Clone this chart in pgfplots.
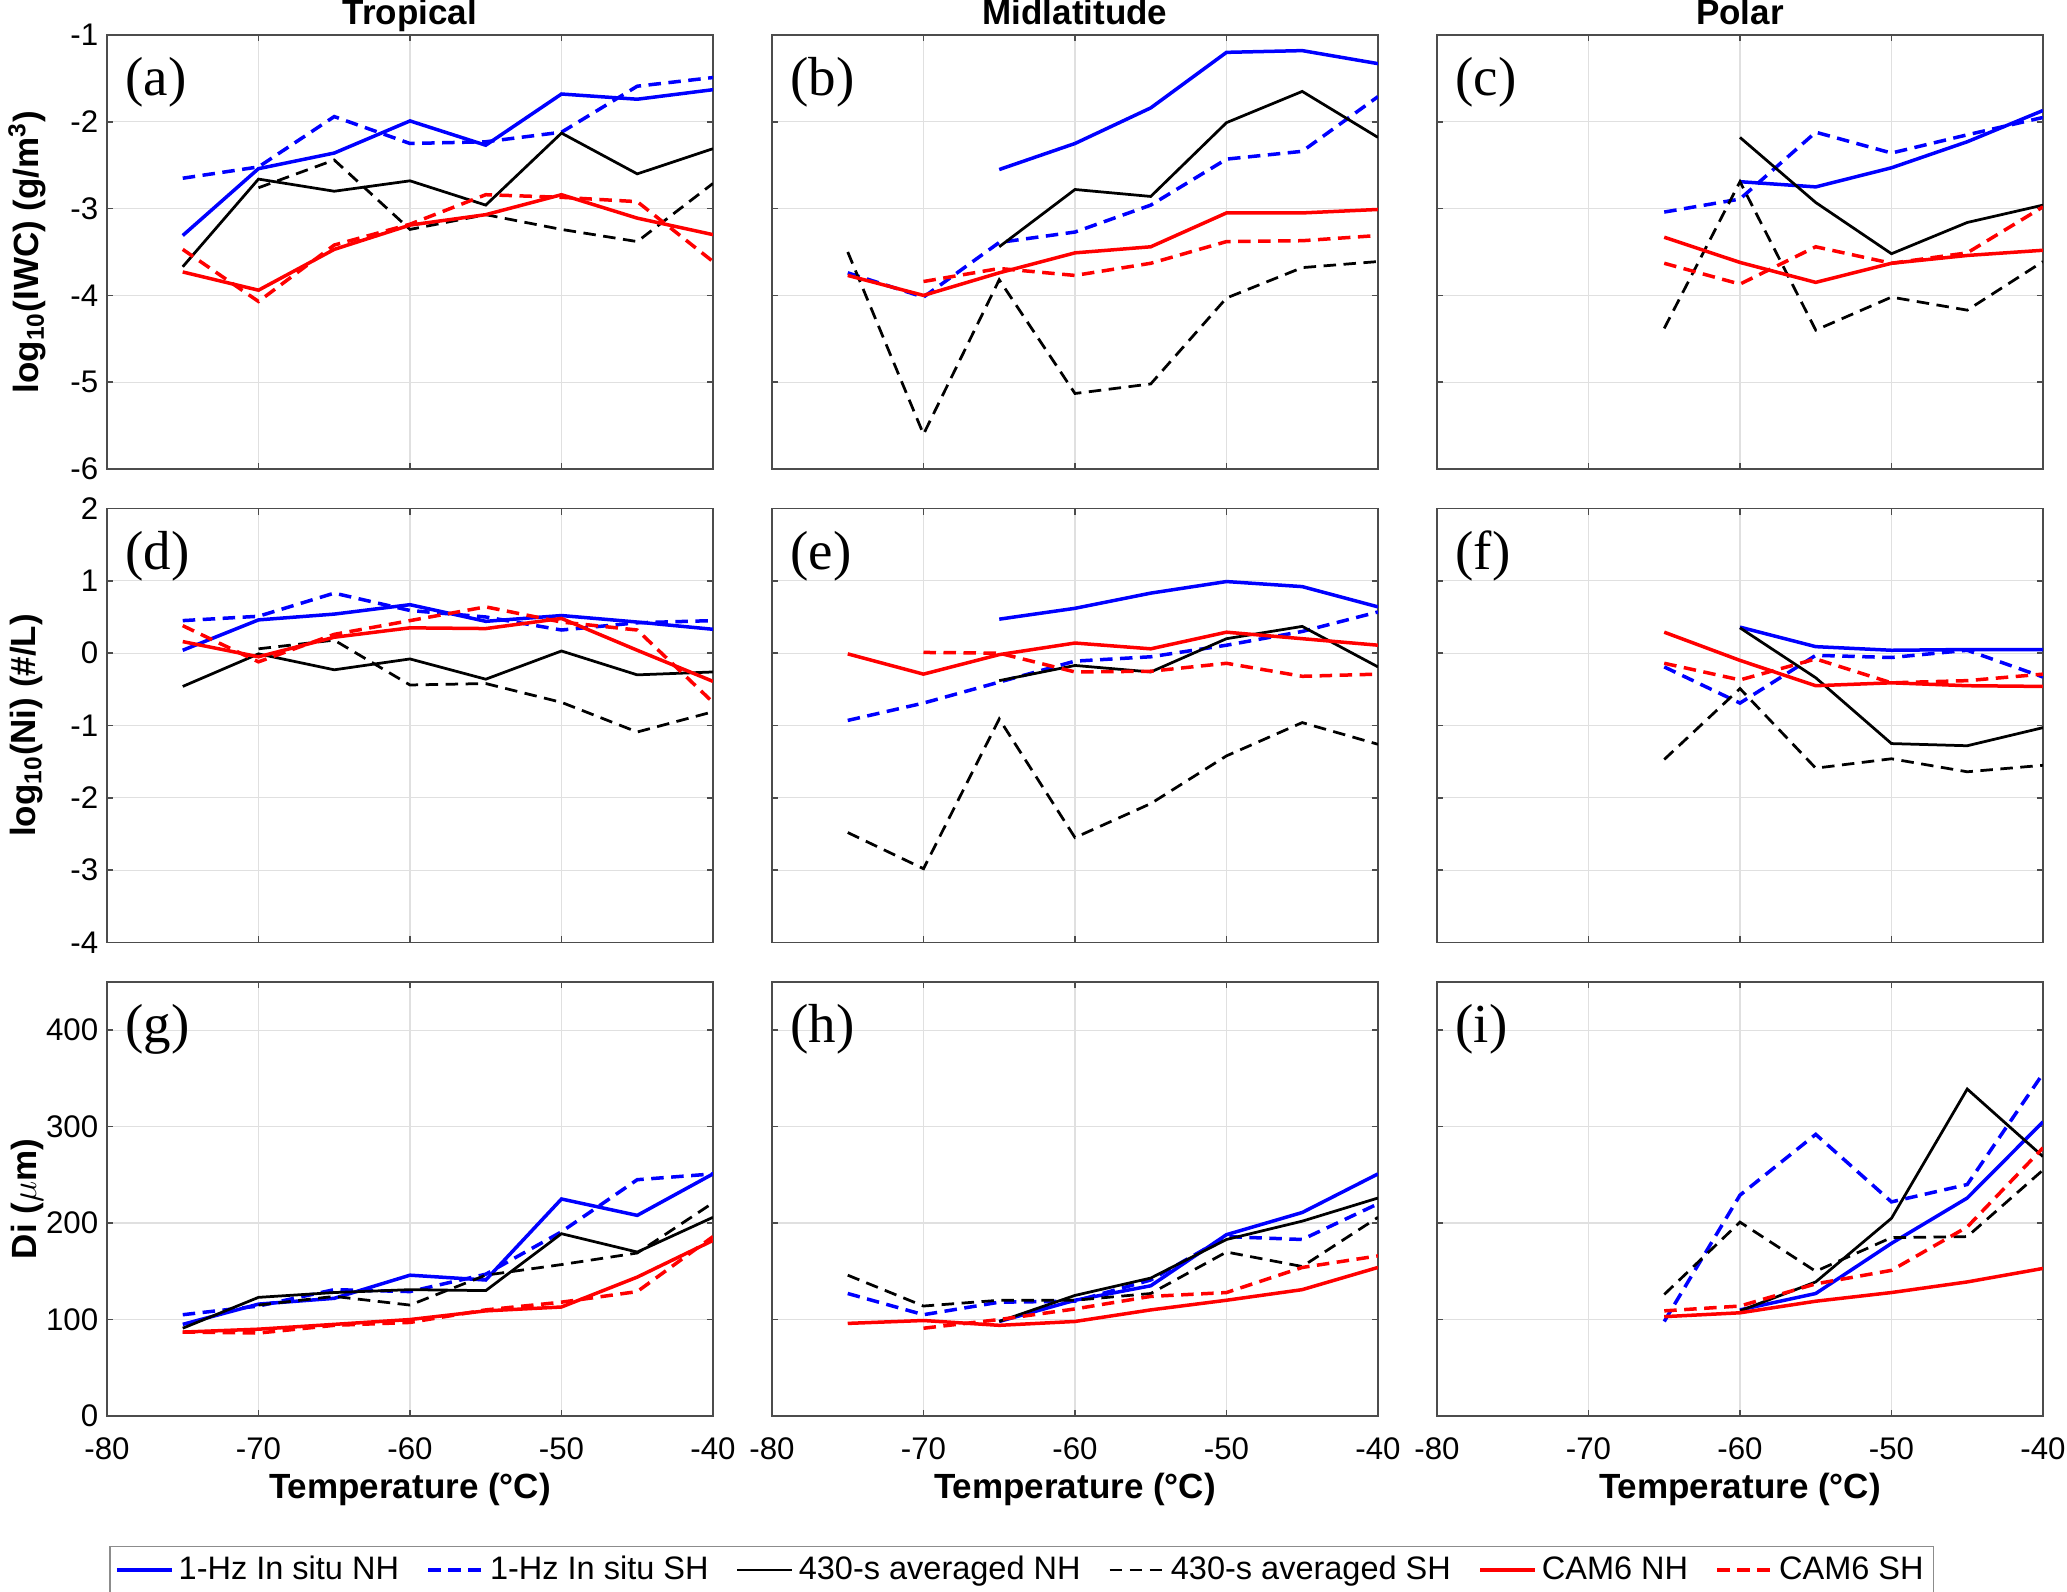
\documentclass[border=0pt]{standalone}
\usepackage{fontspec}
\setmainfont{Liberation Sans}
\newfontfamily\serif{Liberation Serif}
\usepackage{pgfplots}
\pgfplotsset{compat=1.18}
\usepgfplotslibrary{groupplots}

\pgfplotsset{
  s1/.style={blue, line width=1.4pt},
  s2/.style={blue, line width=1.4pt, dash pattern=on 5pt off 3pt},
  s3/.style={black, line width=1.1pt},
  s4/.style={black, line width=1.1pt, dash pattern=on 5pt off 3pt},
  s5/.style={red, line width=1.4pt},
  s6/.style={red, line width=1.4pt, dash pattern=on 5pt off 3pt},
}
\newcommand{\plab}[1]{\node[anchor=west, inner sep=0pt, font=\serif\fontsize{22}{22}\selectfont] at (rel axis cs:0.03,0.89) {(#1)};}

\begin{document}
\begin{tikzpicture}
\begin{groupplot}[
  group style={group size=3 by 3, horizontal sep=23.6pt, vertical sep=15.8pt,
    xticklabels at=edge bottom, yticklabels at=edge left},
  scale only axis, width=242.4pt, height=173.6pt,
  xmin=-80, xmax=-40, xtick={-80,-70,-60,-50,-40},
  no markers,
  grid=major, major grid style={black!12, line width=0.5pt},
  axis line style={black!70, line width=0.6pt},
  tick align=inside, major tick length=2.5pt, tick style={black!70, line width=0.6pt},
  ticklabel style={font=\fontsize{12.5}{12.5}\selectfont},
  xticklabel style={yshift=-5pt},
  /pgf/number format/assume math mode=true,
  title style={font=\bfseries\fontsize{14}{14}\selectfont, anchor=base, yshift=-2pt},
  label style={font=\bfseries\fontsize{14}{14}\selectfont},
  ylabel style={at={(axis description cs:-0.132,0.5)}, anchor=center},
  xlabel style={at={(axis description cs:0.5,-0.169)}, anchor=center},
  legend image code/.code={\draw[#1] (0pt,0pt) -- (22pt,0pt);},
]
% ---- row 1: IWC
\nextgroupplot[title=Tropical, ymin=-6, ymax=-1, ytick={-6,-5,-4,-3,-2,-1},
  ylabel={log\textsubscript{10}(IWC) (g/m\textsuperscript{3})}]
\coordinate (A) at (rel axis cs:0,1);
\addplot[s1] coordinates {(-75,-3.31)(-70,-2.54)(-65,-2.36)(-60,-1.99)(-55,-2.27)(-50,-1.68)(-45,-1.74)(-40,-1.63)};
\addplot[s2] coordinates {(-75,-2.65)(-70,-2.52)(-65,-1.94)(-60,-2.25)(-55,-2.23)(-50,-2.12)(-45,-1.59)(-40,-1.49)};
\addplot[s3] coordinates {(-75,-3.67)(-70,-2.66)(-65,-2.80)(-60,-2.68)(-55,-2.96)(-50,-2.13)(-45,-2.60)(-40,-2.31)};
\addplot[s4] coordinates {(-70,-2.76)(-65,-2.44)(-60,-3.24)(-55,-3.07)(-50,-3.24)(-45,-3.38)(-40,-2.71)};
\addplot[s5] coordinates {(-75,-3.73)(-70,-3.94)(-65,-3.47)(-60,-3.19)(-55,-3.07)(-50,-2.84)(-45,-3.11)(-40,-3.30)};
\addplot[s6] coordinates {(-75,-3.47)(-70,-4.07)(-65,-3.42)(-60,-3.18)(-55,-2.84)(-50,-2.87)(-45,-2.92)(-40,-3.61)};
\plab{a}

\nextgroupplot[title=Midlatitude, ymin=-6, ymax=-1, ytick={-6,-5,-4,-3,-2,-1}]
\addplot[s1] coordinates {(-65,-2.55)(-60,-2.25)(-55,-1.84)(-50,-1.20)(-45,-1.18)(-40,-1.33)};
\addplot[s2] coordinates {(-75,-3.74)(-70,-4.02)(-65,-3.39)(-60,-3.27)(-55,-2.96)(-50,-2.43)(-45,-2.34)(-40,-1.71)};
\addplot[s3] coordinates {(-65,-3.44)(-60,-2.78)(-55,-2.86)(-50,-2.01)(-45,-1.65)(-40,-2.18)};
\addplot[s4] coordinates {(-75,-3.50)(-70,-5.60)(-65,-3.82)(-60,-5.13)(-55,-5.02)(-50,-4.03)(-45,-3.68)(-40,-3.61)};
\addplot[s5] coordinates {(-75,-3.77)(-70,-4.00)(-65,-3.74)(-60,-3.51)(-55,-3.44)(-50,-3.05)(-45,-3.05)(-40,-3.01)};
\addplot[s6] coordinates {(-70,-3.84)(-65,-3.69)(-60,-3.77)(-55,-3.63)(-50,-3.38)(-45,-3.37)(-40,-3.31)};
\plab{b}

\nextgroupplot[title=Polar, ymin=-6, ymax=-1, ytick={-6,-5,-4,-3,-2,-1}]
\addplot[s1] coordinates {(-60,-2.69)(-55,-2.75)(-50,-2.53)(-45,-2.23)(-40,-1.87)};
\addplot[s2] coordinates {(-65,-3.04)(-60,-2.89)(-55,-2.12)(-50,-2.36)(-45,-2.15)(-40,-1.95)};
\addplot[s3] coordinates {(-60,-2.18)(-55,-2.93)(-50,-3.52)(-45,-3.16)(-40,-2.96)};
\addplot[s4] coordinates {(-65,-4.38)(-60,-2.69)(-55,-4.40)(-50,-4.02)(-45,-4.17)(-40,-3.61)};
\addplot[s5] coordinates {(-65,-3.33)(-60,-3.62)(-55,-3.85)(-50,-3.63)(-45,-3.54)(-40,-3.48)};
\addplot[s6] coordinates {(-65,-3.63)(-60,-3.87)(-55,-3.44)(-50,-3.63)(-45,-3.51)(-40,-2.98)};
\plab{c}

% ---- row 2: Ni
\nextgroupplot[ymin=-4, ymax=2, ytick={-4,-3,-2,-1,0,1,2},
  ylabel={log\textsubscript{10}(Ni) (\#/L)}]
\addplot[s1] coordinates {(-75,0.04)(-70,0.46)(-65,0.54)(-60,0.67)(-55,0.44)(-50,0.52)(-45,0.43)(-40,0.33)};
\addplot[s2] coordinates {(-75,0.45)(-70,0.51)(-65,0.83)(-60,0.59)(-55,0.50)(-50,0.32)(-45,0.42)(-40,0.45)};
\addplot[s3] coordinates {(-75,-0.46)(-70,-0.01)(-65,-0.23)(-60,-0.08)(-55,-0.36)(-50,0.03)(-45,-0.30)(-40,-0.26)};
\addplot[s4] coordinates {(-70,0.06)(-65,0.18)(-60,-0.44)(-55,-0.42)(-50,-0.68)(-45,-1.09)(-40,-0.81)};
\addplot[s5] coordinates {(-75,0.16)(-70,-0.05)(-65,0.22)(-60,0.35)(-55,0.34)(-50,0.48)(-45,0.04)(-40,-0.39)};
\addplot[s6] coordinates {(-75,0.38)(-70,-0.12)(-65,0.26)(-60,0.45)(-55,0.64)(-50,0.43)(-45,0.32)(-40,-0.68)};
\plab{d}

\nextgroupplot[ymin=-4, ymax=2, ytick={-4,-3,-2,-1,0,1,2}]
\addplot[s1] coordinates {(-65,0.47)(-60,0.62)(-55,0.83)(-50,0.99)(-45,0.92)(-40,0.64)};
\addplot[s2] coordinates {(-75,-0.93)(-70,-0.69)(-65,-0.40)(-60,-0.11)(-55,-0.05)(-50,0.11)(-45,0.30)(-40,0.57)};
\addplot[s3] coordinates {(-65,-0.38)(-60,-0.17)(-55,-0.26)(-50,0.20)(-45,0.37)(-40,-0.19)};
\addplot[s4] coordinates {(-75,-2.48)(-70,-2.98)(-65,-0.91)(-60,-2.55)(-55,-2.08)(-50,-1.42)(-45,-0.96)(-40,-1.26)};
\addplot[s5] coordinates {(-75,-0.01)(-70,-0.29)(-65,-0.02)(-60,0.14)(-55,0.06)(-50,0.29)(-45,0.20)(-40,0.11)};
\addplot[s6] coordinates {(-70,0.01)(-65,0.00)(-60,-0.26)(-55,-0.25)(-50,-0.14)(-45,-0.32)(-40,-0.29)};
\plab{e}

\nextgroupplot[ymin=-4, ymax=2, ytick={-4,-3,-2,-1,0,1,2}]
\addplot[s1] coordinates {(-60,0.36)(-55,0.09)(-50,0.04)(-45,0.05)(-40,0.05)};
\addplot[s2] coordinates {(-65,-0.19)(-60,-0.69)(-55,-0.03)(-50,-0.06)(-45,0.04)(-40,-0.33)};
\addplot[s3] coordinates {(-60,0.35)(-55,-0.34)(-50,-1.25)(-45,-1.28)(-40,-1.03)};
\addplot[s4] coordinates {(-65,-1.47)(-60,-0.49)(-55,-1.59)(-50,-1.46)(-45,-1.64)(-40,-1.55)};
\addplot[s5] coordinates {(-65,0.29)(-60,-0.10)(-55,-0.45)(-50,-0.41)(-45,-0.45)(-40,-0.46)};
\addplot[s6] coordinates {(-65,-0.14)(-60,-0.37)(-55,-0.08)(-50,-0.41)(-45,-0.38)(-40,-0.29)};
\plab{f}

% ---- row 3: Di
\nextgroupplot[ymin=0, ymax=450, ytick={0,100,200,300,400},
  ylabel={Di ($\mu$m)}, xlabel={Temperature (°C)}]
\addplot[s1] coordinates {(-75,95)(-70,116)(-65,122)(-60,146)(-55,141)(-50,225)(-45,208)(-40,251)};
\addplot[s2] coordinates {(-75,105)(-70,114)(-65,131)(-60,129)(-55,147)(-50,191)(-45,245)(-40,251)};
\addplot[s3] coordinates {(-75,91)(-70,123)(-65,128)(-60,131)(-55,130)(-50,189)(-45,170)(-40,206)};
\addplot[s4] coordinates {(-70,115)(-65,124)(-60,115)(-55,146)(-50,157)(-45,169)(-40,221)};
\addplot[s5] coordinates {(-75,87)(-70,90)(-65,95)(-60,100)(-55,109)(-50,113)(-45,144)(-40,182)};
\addplot[s6] coordinates {(-75,87)(-70,86)(-65,94)(-60,97)(-55,110)(-50,118)(-45,129)(-40,186)};
\plab{g}

\nextgroupplot[ymin=0, ymax=450, ytick={0,100,200,300,400}, xlabel={Temperature (°C)},
  legend columns=6,
  legend style={at={(axis description cs:0.4125,-0.2986)}, anchor=north,
    draw=black!45, line width=0.6pt, inner sep=2pt,
    font=\fontsize{13}{13}\selectfont,
    /tikz/every even column/.append style={column sep=9pt}},
  legend entries={1-Hz In situ NH, 1-Hz In situ SH, 430-s averaged NH, 430-s averaged SH, CAM6 NH, CAM6 SH}]
\addplot[s1] coordinates {(-65,98)(-60,120)(-55,135)(-50,188)(-45,211)(-40,251)};
\addplot[s2] coordinates {(-75,127)(-70,105)(-65,118)(-60,119)(-55,141)(-50,186)(-45,183)(-40,220)};
\addplot[s3] coordinates {(-65,98)(-60,125)(-55,143)(-50,183)(-45,202)(-40,226)};
\addplot[s4] coordinates {(-75,146)(-70,114)(-65,120)(-60,120)(-55,127)(-50,170)(-45,155)(-40,206)};
\addplot[s5] coordinates {(-75,96)(-70,99)(-65,94)(-60,98)(-55,110)(-50,120)(-45,131)(-40,154)};
\addplot[s6] coordinates {(-70,91)(-65,100)(-60,111)(-55,124)(-50,128)(-45,154)(-40,166)};
\plab{h}

\nextgroupplot[ymin=0, ymax=450, ytick={0,100,200,300,400}, xlabel={Temperature (°C)}]
\addplot[s1] coordinates {(-60,110)(-55,127)(-50,179)(-45,226)(-40,305)};
\addplot[s2] coordinates {(-65,98)(-60,229)(-55,292)(-50,222)(-45,240)(-40,355)};
\addplot[s3] coordinates {(-60,109)(-55,139)(-50,205)(-45,339)(-40,269)};
\addplot[s4] coordinates {(-65,126)(-60,201)(-55,150)(-50,185)(-45,186)(-40,255)};
\addplot[s5] coordinates {(-65,103)(-60,107)(-55,119)(-50,128)(-45,139)(-40,153)};
\addplot[s6] coordinates {(-65,109)(-60,114)(-55,137)(-50,151)(-45,196)(-40,278)};
\plab{i}
\end{groupplot}
\pgfresetboundingbox
\path (A) ++(-42.8pt,14pt) rectangle ++(826.8pt,-636.8pt);
\end{tikzpicture}
\end{document}
